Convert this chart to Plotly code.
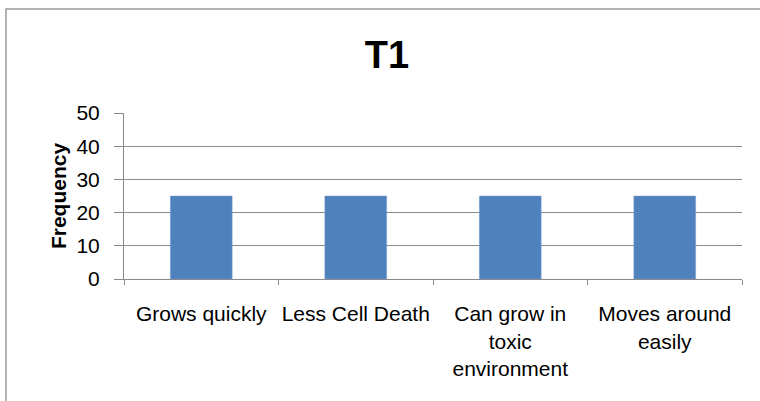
import plotly.graph_objects as go

categories = ["Grows quickly", "Less Cell Death", "Can grow in<br>toxic<br>environment", "Moves around<br>easily"]
frequency = [25, 25, 25, 25]
y_ticks = [0, 10, 20, 30, 40, 50]
title_text = "T1"
y_title = "Frequency"

FONT = "Liberation Sans, Arial, sans-serif"
GRID = "#8a8a8a"

fig = go.Figure(
    go.Bar(
        x=categories,
        y=frequency,
        width=0.4,
        marker=dict(color="#4F81BD", line=dict(color="#7a9fd0", width=0.5)),
    )
)

fig.update_layout(
    width=760,
    height=401,
    margin=dict(l=124, r=18, t=113, b=122, autoexpand=False),
    paper_bgcolor="white",
    plot_bgcolor="white",
    showlegend=False,
    font=dict(family=FONT, color="#111111"),
    title=dict(
        text=f"<b>{title_text}</b>",
        font=dict(size=38, family=FONT, color="black"),
        x=387 / 760,
        xref="container",
        xanchor="center",
        y=1 - 55 / 401,
        yref="container",
        yanchor="middle",
    ),
    xaxis=dict(
        type="category",
        automargin=False,
        showgrid=False,
        showline=True,
        linecolor=GRID,
        linewidth=1,
        ticks="outside",
        tickson="boundaries",
        ticklen=5,
        tickcolor=GRID,
        tickangle=0,
        tickfont=dict(size=21, family=FONT, color="black"),
        ticklabelstandoff=16,
    ),
    yaxis=dict(
        automargin=False,
        range=[0, 50],
        tickvals=y_ticks,
        showgrid=True,
        gridcolor=GRID,
        gridwidth=1,
        showline=True,
        linecolor=GRID,
        linewidth=1,
        ticks="outside",
        ticklen=9,
        tickcolor=GRID,
        tickfont=dict(size=21, family=FONT, color="black"),
        ticklabelstandoff=10,
        zeroline=False,
        title=dict(text=f"<b>{y_title}</b>", font=dict(size=21, family=FONT, color="black"), standoff=4),
    ),
    shapes=[
        dict(
            type="rect",
            xref="paper", yref="paper",
            xsizemode="pixel", ysizemode="pixel",
            xanchor=0, yanchor=0,
            x0=-118, x1=700, y0=-250, y1=270,
            line=dict(color="#9a9a9a", width=1.5),
            fillcolor="rgba(0,0,0,0)",
            layer="above",
        )
    ],
)

fig.write_html(
    "out.html",
    config={"displayModeBar": False},
    post_script="document.body.style.margin='0';",
)
